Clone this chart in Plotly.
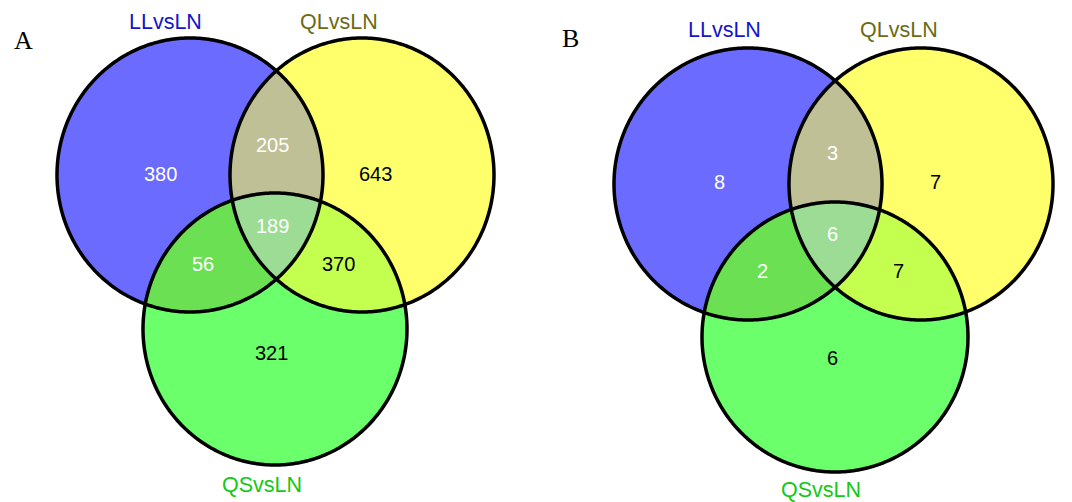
import numpy as np
import plotly.graph_objects as go

# Set names and region counts for the two three-way Venn diagrams
set_names = ["LLvsLN", "QLvsLN", "QSvsLN"]
panel_tags = ["A", "B"]
# region order: LL only, LL&QL, QL only, LL&QL&QS, LL&QS, QL&QS, QS only
region_keys = ["100", "110", "010", "111", "101", "011", "001"]
counts_a = [380, 205, 643, 189, 56, 370, 321]
counts_b = [8, 3, 7, 6, 2, 7, 6]

# Styling
set_colors = ["#6b6bff", "#ffff6b", "#6bff6b"]
label_colors = ["#1414c8", "#6b6b14", "#14c814"]
region_fill = {"110": "#c0c096", "101": "#6ae052", "011": "#c4ff50", "111": "#9cdc94"}
text_color = {"100": "white", "110": "white", "010": "black", "111": "white",
              "101": "white", "011": "black", "001": "black"}

W, H = 1072, 502
N = 360


def ellipse(cx, cy, rx, ry):
    t = np.linspace(0, 2 * np.pi, N, endpoint=False)
    return np.column_stack([cx + rx * np.cos(t), cy + ry * np.sin(t)])


def clip(subject, clipper):
    """Sutherland-Hodgman clipping of a polygon by a convex polygon."""
    def inside(p, a, b):
        return (b[0] - a[0]) * (p[1] - a[1]) - (b[1] - a[1]) * (p[0] - a[0]) >= 0

    def cross_pt(p1, p2, a, b):
        x1, y1 = p1; x2, y2 = p2; x3, y3 = a; x4, y4 = b
        den = (x1 - x2) * (y3 - y4) - (y1 - y2) * (x3 - x4)
        px = ((x1 * y2 - y1 * x2) * (x3 - x4) - (x1 - x2) * (x3 * y4 - y3 * x4)) / den
        py = ((x1 * y2 - y1 * x2) * (y3 - y4) - (y1 - y2) * (x3 * y4 - y3 * x4)) / den
        return (px, py)

    out = [tuple(p) for p in subject]
    m = len(clipper)
    for i in range(m):
        a, b = clipper[i], clipper[(i + 1) % m]
        inp = out
        out = []
        if not inp:
            break
        s = inp[-1]
        for e in inp:
            if inside(e, a, b):
                if not inside(s, a, b):
                    out.append(cross_pt(s, e, a, b))
                out.append(e)
            elif inside(s, a, b):
                out.append(cross_pt(s, e, a, b))
            s = e
    return np.array(out)


def path_of(poly):
    return "M " + " L ".join(f"{x:.2f},{y:.2f}" for x, y in poly) + " Z"


# Panel geometry (pixel space): circle centres/radii, label anchors, count anchors
panels = [
    dict(tag_xy=(23, 40),
         circles=[(190, 175, 133, 137), (362, 175, 132, 137), (275, 329, 132, 136)],
         label_xy=[(165, 22), (339, 22), (262, 485)],
         count_xy=[(160, 174), (272, 145), (375, 174), (272, 226), (203, 264), (338, 264), (271, 353)],
         counts=counts_a),
    dict(tag_xy=(570, 38),
         circles=[(748, 184, 134, 136), (921, 184, 132, 136), (835, 337, 133, 135)],
         label_xy=[(724, 30), (899, 30), (821, 490)],
         count_xy=[(719, 182), (832, 153), (935, 182), (832, 234), (762, 271), (898, 271), (832, 358)],
         counts=counts_b),
]

fig = go.Figure()
shapes = []
annotations = []

for tag, p in zip(panel_tags, panels):
    polys = [ellipse(*c) for c in p["circles"]]
    for poly, col in zip(polys, set_colors):
        shapes.append(dict(type="path", path=path_of(poly), fillcolor=col,
                           line=dict(width=0), layer="below"))
    pair_idx = {"110": (0, 1), "101": (0, 2), "011": (1, 2)}
    for key, (i, j) in pair_idx.items():
        shapes.append(dict(type="path", path=path_of(clip(polys[i], polys[j])),
                           fillcolor=region_fill[key], line=dict(width=0), layer="below"))
    triple = clip(clip(polys[0], polys[1]), polys[2])
    shapes.append(dict(type="path", path=path_of(triple), fillcolor=region_fill["111"],
                       line=dict(width=0), layer="below"))
    for poly in polys:
        shapes.append(dict(type="path", path=path_of(poly), fillcolor="rgba(0,0,0,0)",
                           line=dict(color="black", width=3.5), layer="below"))

    for name, (lx, ly), lc in zip(set_names, p["label_xy"], label_colors):
        annotations.append(dict(x=lx, y=ly, text=name, showarrow=False,
                                font=dict(family="Liberation Sans, Arial", size=21.5, color=lc),
                                xanchor="center", yanchor="middle"))
    for key, (cx, cy), v in zip(region_keys, p["count_xy"], p["counts"]):
        annotations.append(dict(x=cx, y=cy, text=str(v), showarrow=False,
                                font=dict(family="Liberation Sans, Arial", size=20,
                                          color=text_color[key]),
                                xanchor="center", yanchor="middle"))
    annotations.append(dict(x=p["tag_xy"][0], y=p["tag_xy"][1], text=tag, showarrow=False,
                            font=dict(family="Liberation Serif, Times New Roman", size=26,
                                      color="black"),
                            xanchor="center", yanchor="middle"))

fig.update_layout(
    width=W, height=H,
    margin=dict(l=0, r=0, t=0, b=0),
    paper_bgcolor="white", plot_bgcolor="white",
    xaxis=dict(range=[0, W], visible=False, fixedrange=True),
    yaxis=dict(range=[H, 0], visible=False, fixedrange=True),
    shapes=shapes, annotations=annotations, showlegend=False,
)

fig.write_html("out.html")
